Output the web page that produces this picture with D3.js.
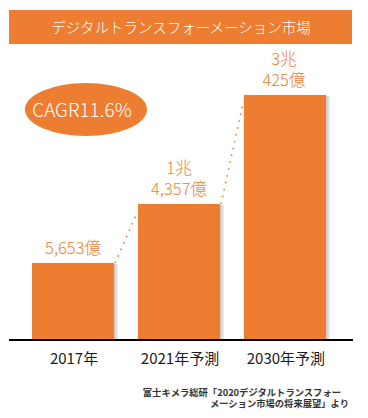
<!DOCTYPE html>
<html><head><meta charset="utf-8">
<script src="https://cdn.jsdelivr.net/npm/d3@7"></script>
<style>
html,body{margin:0;padding:0;background:#fff;}
svg{display:block;font-family:"Noto Sans CJK JP","Noto Sans",sans-serif;}
</style></head>
<body>
<svg id="c" width="368" height="418"></svg>
<script>
// Data (values in 億円)
const categories = ["2017年", "2021年予測", "2030年予測"];
const values = [5653, 14357, 30425];
const title = "デジタルトランスフォーメーション市場";
const cagrLabel = "CAGR11.6%";
const sourceLines = ["富士キメラ総研「2020デジタルトランスフォー", "メーション市場の将来展望」より"];

const orange = "#ED7D31";
const svg = d3.select("#c");

const baseY = 340;
const x = d3.scaleBand().domain(categories).range([32, 326]).paddingInner(0.225).paddingOuter(0);
const y = d3.scaleLinear().domain([-5700, 30425]).range([baseY, 95]);

// shadow gradient
const defs = svg.append("defs");
const g = defs.append("linearGradient").attr("id", "sh").attr("x1", "0").attr("x2", "1");
g.append("stop").attr("offset", "0").attr("stop-color", "#c8c8c8");
g.append("stop").attr("offset", "1").attr("stop-color", "#f0f0f0");

// title bar
svg.append("rect").attr("x", 9).attr("y", 10).attr("width", 343).attr("height", 34).attr("fill", orange);
svg.append("text").attr("x", 181).attr("y", 32.5).attr("text-anchor", "middle")
  .attr("fill", "#fff").attr("font-size", 14.5).attr("font-weight", 300).text(title);

// bars
const bars = svg.append("g");
bars.selectAll("rect.sh").data(values).join("rect").attr("class", "sh")
  .attr("x", (d, i) => x(categories[i]) + x.bandwidth())
  .attr("y", d => y(d) + 1)
  .attr("width", 4)
  .attr("height", d => baseY - y(d) - 1)
  .attr("fill", "url(#sh)");
bars.selectAll("rect.b").data(values).join("rect").attr("class", "b")
  .attr("x", (d, i) => x(categories[i]))
  .attr("y", d => y(d))
  .attr("width", x.bandwidth())
  .attr("height", d => baseY - y(d))
  .attr("fill", orange);

// dotted connectors
for (let i = 0; i < values.length - 1; i++) {
  svg.append("line")
    .attr("x1", x(categories[i]) + x.bandwidth() + 1)
    .attr("y1", y(values[i]))
    .attr("x2", x(categories[i + 1]) - 1)
    .attr("y2", y(values[i + 1]) + 9)
    .attr("stroke", orange).attr("stroke-width", 1.6)
    .attr("stroke-dasharray", "1.6 5.4");
}

// axis line
svg.append("line").attr("x1", 9).attr("x2", 353).attr("y1", baseY).attr("y2", baseY)
  .attr("stroke", "#000").attr("stroke-width", 2.2);

// value labels
const fmt = d3.format(",");
function labelLines(v) {
  const cho = Math.floor(v / 10000), oku = v % 10000;
  return cho > 0 ? [cho + "兆", fmt(oku) + "億"] : [fmt(oku) + "億"];
}
values.forEach((v, i) => {
  const lines = labelLines(v);
  const cx = x(categories[i]) + x.bandwidth() / 2 - (lines.length > 1 && i === 2 ? 1 : 0);
  const bottom = y(v) - 9;
  lines.forEach((ln, j) => {
    svg.append("text").attr("text-anchor", "middle").attr("fill", orange)
      .attr("font-size", 16.5).attr("font-weight", 300)
      .attr("x", cx).attr("y", bottom - (lines.length - 1 - j) * 21).text(ln);
  });
});

// category labels
svg.append("g").selectAll("text").data(categories).join("text")
  .attr("x", d => x(d) + x.bandwidth() / 2 + 1)
  .attr("y", 364)
  .attr("text-anchor", "middle").attr("fill", "#1a1a1a").attr("font-size", 15)
  .text(d => d);

// CAGR ellipse
svg.append("ellipse").attr("cx", 86).attr("cy", 109.5).attr("rx", 61).attr("ry", 26.5).attr("fill", orange);
svg.append("text").attr("x", 82).attr("y", 116.5).attr("text-anchor", "middle")
  .attr("fill", "#fff").attr("font-size", 19).attr("font-weight", 300).text(cagrLabel);

// source
svg.append("text").attr("x", 341).attr("y", 396).attr("text-anchor", "end")
  .attr("fill", "#333").attr("font-size", 9.3).attr("font-weight", "bold").text(sourceLines[0]);
svg.append("text").attr("x", 349).attr("y", 407).attr("text-anchor", "end")
  .attr("fill", "#333").attr("font-size", 9.3).attr("font-weight", "bold").text(sourceLines[1]);
</script>
</body></html>
